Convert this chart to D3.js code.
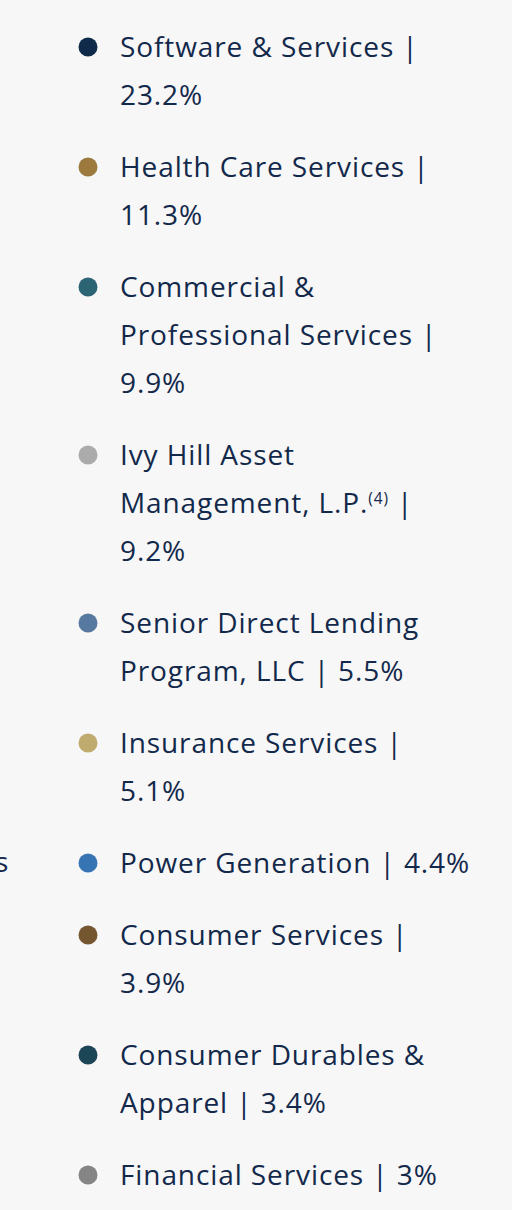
<!DOCTYPE html>
<html>
<head>
<meta charset="utf-8">
<script src="https://cdn.jsdelivr.net/npm/d3@7"></script>
<style>
  html, body { margin: 0; padding: 0; background: #f7f7f7; }
  svg { display: block; }
</style>
</head>
<body>
<svg id="chart" width="512" height="1210"></svg>
<script>
const categories = [
  "Software & Services",
  "Health Care Services",
  "Commercial & Professional Services",
  "Ivy Hill Asset Management, L.P.^(4)",
  "Senior Direct Lending Program, LLC",
  "Insurance Services",
  "Power Generation",
  "Consumer Services",
  "Consumer Durables & Apparel",
  "Financial Services"
];
const values = [23.2, 11.3, 9.9, 9.2, 5.5, 5.1, 4.4, 3.9, 3.4, 3];
const colors = ["#0f2b49", "#9c7a3d", "#2b6574", "#ababab", "#57789f",
                "#bfab6d", "#3674b3", "#745731", "#1c4556", "#858585"];

const W = 512, H = 1210;
const fontFamily = "'Open Sans', 'Noto Sans', sans-serif";
const fontSize = 28;
const letterSpacing = 0.9;
const lineH = 48;
const itemGap = 24;
const textX = 120, dotX = 88, dotR = 9.5;
const maxW = 352;
const textColor = "#13294b";

const svg = d3.select("#chart");
svg.append("rect").attr("width", W).attr("height", H).attr("fill", "#f7f7f7");

// cut-off label from neighbouring column
svg.append("text").attr("x", -5).attr("y", 872)
  .attr("font-family", fontFamily).attr("font-size", fontSize)
  .attr("letter-spacing", letterSpacing)
  .attr("fill", textColor).text("s");

const fmt = v => d3.format("~f")(v) + "%";

function renderWords(textSel, words) {
  let pendingDy = 0;
  words.forEach((w, i) => {
    const pre = i === 0 ? "" : " ";
    const m = w.match(/^(.*)\^(.*)$/);
    if (m) {
      textSel.append("tspan").attr("dy", pendingDy || null).text(pre + m[1]);
      textSel.append("tspan").attr("font-size", fontSize * 0.55)
        .attr("dy", -9).text(m[2]);
      pendingDy = 9;
    } else {
      textSel.append("tspan").attr("dy", pendingDy || null).text(pre + w);
      pendingDy = 0;
    }
  });
}

const measure = svg.append("text").attr("font-family", fontFamily)
  .attr("font-size", fontSize).attr("letter-spacing", letterSpacing)
  .attr("visibility", "hidden");
function widthOf(words) {
  measure.selectAll("*").remove();
  renderWords(measure, words);
  return measure.node().getComputedTextLength();
}

function wrap(words) {
  const lines = [];
  let cur = [];
  words.forEach(w => {
    const trial = cur.concat([w]);
    if (cur.length && widthOf(trial) > maxW) {
      lines.push(cur);
      cur = [w];
    } else cur = trial;
  });
  if (cur.length) lines.push(cur);
  return lines;
}

const data = categories.map((c, i) => ({
  name: c, value: values[i], color: colors[i],
  lines: wrap(c.split(" ").concat(["|", fmt(values[i])]))
}));
measure.remove();

let y = 57;
data.forEach(d => { d.y = y; y += d.lines.length * lineH + itemGap; });

const g = svg.selectAll("g.item").data(data).join("g").attr("class", "item");
g.append("circle").attr("cx", dotX).attr("cy", d => d.y - 10)
  .attr("r", dotR).attr("fill", d => d.color);
g.each(function(d) {
  d.lines.forEach((ln, j) => {
    const t = d3.select(this).append("text")
      .attr("x", textX).attr("y", d.y + j * lineH)
      .attr("font-family", fontFamily).attr("font-size", fontSize)
      .attr("fill", textColor).attr("letter-spacing", letterSpacing);
    renderWords(t, ln);
  });
});
</script>
</body>
</html>
